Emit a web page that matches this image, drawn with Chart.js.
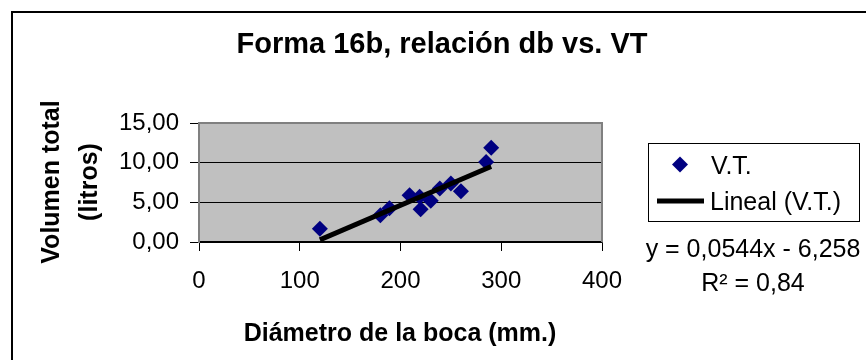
<!DOCTYPE html>
<html>
<head>
<meta charset="utf-8">
<script src="https://cdn.jsdelivr.net/npm/chart.js@4/dist/chart.umd.min.js"></script>
<style>
  html, body { margin: 0; padding: 0; background: #ffffff; }
  #wrap { width: 866px; height: 360px; }
</style>
</head>
<body>
<div id="wrap"><canvas id="c" width="866" height="360"></canvas></div>
<script>
// Diámetro de la boca (mm) y volumen total (litros) de cada pieza
const diametro = [120, 180, 189, 209, 219, 220, 230, 239, 250, 260, 285, 290];
const volumen  = [1.66, 3.37, 4.25, 5.9, 5.7, 4.12, 5.2, 6.75, 7.37, 6.41, 10.07, 11.87];

// Ajuste lineal publicado junto al gráfico
const pendiente = 0.0544;
const ordenada = -6.258;
const r2 = 0.84;

const xTickLabels = ['0', '100', '200', '300', '400'];
const yTickLabels = ['0,00', '5,00', '10,00', '15,00'];

const titulo = 'Forma 16b, relación db vs. VT';
const tituloX = 'Diámetro de la boca (mm.)';
const tituloY = ['Volumen total', '(litros)'];
const serieNombre = 'V.T.';
const tendenciaNombre = 'Lineal (V.T.)';

const FAMILY = '"Liberation Sans", Arial, Helvetica, sans-serif';
Chart.defaults.font.family = FAMILY;
Chart.defaults.color = '#000000';

const fmt = (v, d) => v.toFixed(d).replace('.', ',');

const puntos = diametro.map((x, i) => ({ x, y: volumen[i] }));
const xMin = Math.min(...diametro);
const xMax = Math.max(...diametro);
const tendencia = [xMin, xMax].map(x => ({ x, y: pendiente * x + ordenada }));

const MARKER = '#000080';

// Fondo, marco exterior y rótulos del gráfico
const decorado = {
  id: 'decorado',
  beforeDraw(chart) {
    const { ctx, chartArea: a } = chart;
    ctx.save();
    ctx.fillStyle = '#ffffff';
    ctx.fillRect(0, 0, chart.width, chart.height);
    ctx.strokeStyle = '#000000';
    ctx.lineWidth = 2;
    ctx.strokeRect(12, 12, chart.width + 20, chart.height + 20);
    ctx.fillStyle = '#c0c0c0';
    ctx.fillRect(a.left, a.top, a.right - a.left, a.bottom - a.top);
    ctx.restore();
  },
  beforeDatasetsDraw(chart) {
    const { ctx, chartArea: a } = chart;
    ctx.save();
    ctx.strokeStyle = '#808080';
    ctx.lineWidth = 2;
    ctx.beginPath();
    ctx.moveTo(a.left, a.top);
    ctx.lineTo(a.right, a.top);
    ctx.lineTo(a.right, a.bottom);
    ctx.stroke();
    ctx.restore();
  },
  afterDraw(chart) {
    const { ctx } = chart;
    ctx.save();
    ctx.fillStyle = '#000000';
    ctx.textBaseline = 'middle';

    // Título
    ctx.textAlign = 'center';
    ctx.font = 'bold 29px ' + FAMILY;
    ctx.fillText(titulo, 442, 45);

    // Título del eje X
    ctx.font = 'bold 25px ' + FAMILY;
    ctx.fillText(tituloX, 400, 334);

    // Título del eje Y (dos líneas, girado)
    ctx.save();
    ctx.translate(0, 182);
    ctx.rotate(-Math.PI / 2);
    ctx.fillText(tituloY[0], 0, 52);
    ctx.fillText(tituloY[1], 0, 90);
    ctx.restore();

    // Leyenda
    ctx.strokeStyle = '#000000';
    ctx.lineWidth = 1;
    ctx.strokeRect(648.5, 143.5, 211, 78);
    const ds0 = chart.data.datasets[0];
    ctx.fillStyle = ds0.backgroundColor;
    ctx.beginPath();
    ctx.moveTo(680, 156.5);
    ctx.lineTo(688, 164.5);
    ctx.lineTo(680, 172.5);
    ctx.lineTo(672, 164.5);
    ctx.closePath();
    ctx.fill();
    const ds1 = chart.data.datasets[1];
    ctx.strokeStyle = ds1.borderColor;
    ctx.lineWidth = ds1.borderWidth;
    ctx.beginPath();
    ctx.moveTo(657, 201);
    ctx.lineTo(704, 201);
    ctx.stroke();
    ctx.fillStyle = '#000000';
    ctx.textAlign = 'left';
    ctx.font = '25px ' + FAMILY;
    ctx.fillText(ds0.label, 711, 167);
    ctx.fillText(ds1.label, 710, 203);

    // Ecuación de la recta y coeficiente de determinación
    ctx.textAlign = 'center';
    const signo = ordenada < 0 ? ' - ' : ' + ';
    ctx.fillText('y = ' + String(pendiente).replace('.', ',') + 'x' + signo +
                 String(Math.abs(ordenada)).replace('.', ','), 753, 250);
    ctx.fillText('R² = ' + fmt(r2, 2), 753, 284);
    ctx.restore();
  }
};

new Chart(document.getElementById('c'), {
  type: 'scatter',
  data: {
    datasets: [
      {
        label: serieNombre,
        data: puntos,
        pointStyle: 'rectRot',
        pointRadius: 8,
        pointHoverRadius: 8,
        backgroundColor: MARKER,
        borderColor: MARKER,
        borderWidth: 0,
        order: 2
      },
      {
        type: 'line',
        label: tendenciaNombre,
        data: tendencia,
        borderColor: '#000000',
        borderWidth: 5,
        pointRadius: 0,
        fill: false,
        tension: 0,
        order: 1
      }
    ]
  },
  options: {
    responsive: false,
    animation: false,
    devicePixelRatio: 1,
    layout: { padding: { left: 0, top: 123, right: 264, bottom: 68 } },
    plugins: {
      legend: { display: false },
      title: { display: false },
      tooltip: { enabled: false }
    },
    scales: {
      x: {
        type: 'linear',
        min: 0,
        max: 400,
        afterFit: s => { s.height = 50; },
        ticks: {
          stepSize: 100,
          padding: 16,
          font: { size: 24 },
          color: '#000000',
          maxRotation: 0,
          callback: v => xTickLabels[Math.round(v / 100)]
        },
        grid: {
          drawOnChartArea: false,
          drawTicks: true,
          tickLength: 9,
          tickColor: '#000000',
          color: '#000000'
        },
        border: { color: '#000000', width: 1.5 }
      },
      y: {
        min: 0,
        max: 15,
        afterFit: s => { s.width = 199; },
        ticks: {
          stepSize: 5,
          padding: 11,
          font: { size: 24 },
          color: '#000000',
          callback: v => yTickLabels[Math.round(v / 5)]
        },
        grid: {
          color: '#000000',
          lineWidth: 1,
          tickLength: 9,
          tickColor: '#000000'
        },
        border: { color: '#808080', width: 2 }
      }
    }
  },
  plugins: [decorado]
});
</script>
</body>
</html>
